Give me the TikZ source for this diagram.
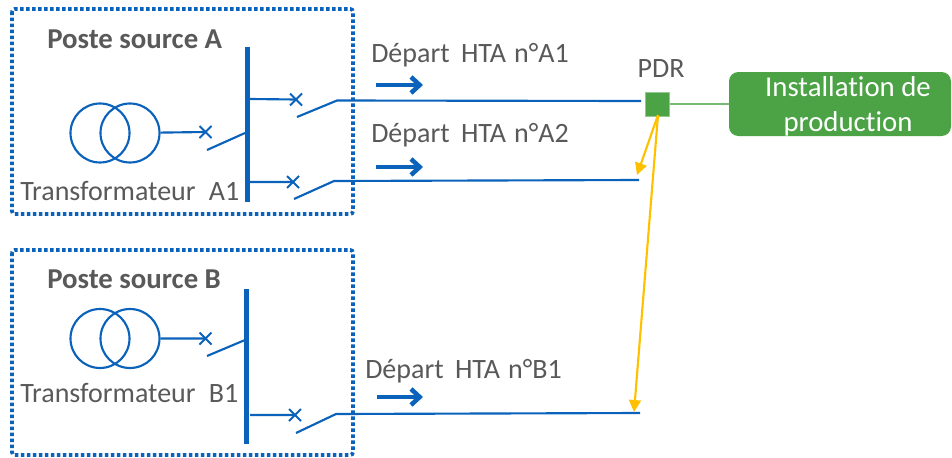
\documentclass[tikz,border=0pt]{standalone}
\usepackage{fontspec}
\setmainfont{Carlito}[Ligatures=NoCommon]
\usetikzlibrary{arrows.meta,shapes.misc}
\definecolor{ecol}{HTML}{0A62BA}
\definecolor{tcol}{HTML}{595959}
\definecolor{gcol}{HTML}{4BA345}
\definecolor{ycol}{HTML}{FFC000}
\tikzstyle{poste}=[draw=ecol, line width=2.8pt, dash pattern=on 2.6pt off 1.9pt, rounded corners=2pt]
\tikzstyle{edge}=[line width=1.6pt,ecol]
\tikzstyle{bus}=[line width=4.2pt,ecol]
\tikzstyle{coil}=[circle, draw=ecol, line width=1.6pt, inner sep=0pt, minimum size=44.25pt]
\tikzstyle{brk}=[cross out, draw=ecol, line width=1.5pt, inner sep=0pt, minimum size=7.5pt]
\tikzstyle{sens}=[line width=3.4pt,ecol,-{Straight Barb[length=6.5pt,width=12pt]}]
\tikzstyle{lien}=[line width=1.6pt,ycol,-{Triangle[length=9pt,width=9pt]}]
\tikzstyle{txt}=[anchor=west, inner sep=0pt, text=tcol, font=\fontsize{21}{25}\selectfont]
\tikzstyle{titre}=[anchor=west, inner sep=0pt, text=tcol, font=\fontsize{21.6}{25}\selectfont\bfseries]

\begin{document}
\begin{tikzpicture}[x=0.75pt,y=-0.75pt]
	\useasboundingbox (0,0) rectangle (952,457);

	% Postes
	\draw[poste] (12,9) rectangle (353,214);
	\draw[poste] (12,250) rectangle (353,455);
	\node[titre] (pa) at (47,39) {Poste source A};
	\node[titre] (pb) at (47,279) {Poste source B};
	\node[txt] (ta) at (20,191) {Transformateur\hspace{10pt}A1};
	\node[txt] (tb) at (20,393) {Transformateur\hspace{10pt}B1};

	% Transformateurs
	\node[coil] (a1) at (100,133) {};
	\node[coil] (a2) at (130,133) {};
	\node[coil] (b1) at (100,338.5) {};
	\node[coil] (b2) at (130,338.5) {};

	% Barres
	\coordinate (bah) at (247.5,47);
	\coordinate (bab) at (247.5,202);
	\coordinate (bbh) at (246.5,289);
	\coordinate (bbb) at (246.5,444);
	\draw[bus] (bah)--(bab);
	\draw[bus] (bbh)--(bbb);

	% Disjoncteurs
	\node[brk] (xa) at (205.5,132) {};
	\node[brk] (xa1) at (296,99.5) {};
	\node[brk] (xa2) at (293,182) {};
	\node[brk] (xb) at (205.5,338.5) {};
	\node[brk] (xb1) at (295,415) {};

	% Points libres
	\coordinate (sa0) at (207,150);
	\coordinate (sa1) at (245,133);
	\coordinate (ba1) at (250,99);
	\coordinate (s11) at (297,117);
	\coordinate (s12) at (337,100.5);
	\coordinate (ea1) at (641,101);
	\coordinate (ba2) at (250,182);
	\coordinate (s21) at (294,199);
	\coordinate (s22) at (334,181);
	\coordinate (ea2) at (639,180);
	\coordinate (sb0) at (207,356);
	\coordinate (sb1) at (245,340);
	\coordinate (bb1) at (250,415);
	\coordinate (s31) at (296,433);
	\coordinate (s32) at (336,414);
	\coordinate (eb1) at (640,413);

	% Liaisons
	\draw[edge] (a2)--(xa.center) (sa0)--(sa1);
	\draw[edge] (b2)--(xb.center) (sb0)--(sb1);
	\draw[edge] (ba1)--(xa1.center) (s11)--(s12)--(ea1);
	\draw[edge] (ba2)--(xa2.center) (s21)--(s22)--(ea2);
	\draw[edge] (bb1)--(xb1.center) (s31)--(s32)--(eb1);

	% Departs
	\node[txt] (da1) at (371,55) {Départ\hspace{8.5pt}HTA\hspace{6pt}n°A1};
	\node[txt] (da2) at (371,135) {Départ\hspace{8.5pt}HTA\hspace{6pt}n°A2};
	\node[txt] (db1) at (365,371) {Départ\hspace{8.5pt}HTA\hspace{6pt}n°B1};
	\coordinate (fa1) at (376,85);
	\coordinate (ga1) at (423,85);
	\coordinate (fa2) at (376,167);
	\coordinate (ga2) at (423,167);
	\coordinate (fb1) at (377,397);
	\coordinate (gb1) at (423,397);
	\draw[sens] (fa1)--(ga1);
	\draw[sens] (fa2)--(ga2);
	\draw[sens] (fb1)--(gb1);

	% PDR
	\node[txt,anchor=center] (lp) at (661,69) {PDR};
	\node[rectangle, fill=gcol, draw=gcol!60!white, line width=0.5pt, inner sep=0pt, minimum size=18pt] (pdr) at (657.5,104) {};
	\node[rectangle, rounded corners=7pt, fill=gcol, text=white, align=center, inner sep=0pt, minimum width=166.5pt, minimum height=48pt, font=\fontsize{21.6}{26}\selectfont] (prod) at (840,104) {\rule{0pt}{18pt}\hspace*{12pt}Installation de\\\hspace*{12pt}production};
	\draw[line width=1.8pt,gcol!75!white] (pdr)--(prod);

	% Report
	\coordinate (p0) at (658,115);
	\coordinate (r1) at (637,175);
	\coordinate (r2) at (634,412);
	\draw[lien] (p0)--(r1);
	\draw[lien] (p0)--(r2);
\end{tikzpicture}
\end{document}
